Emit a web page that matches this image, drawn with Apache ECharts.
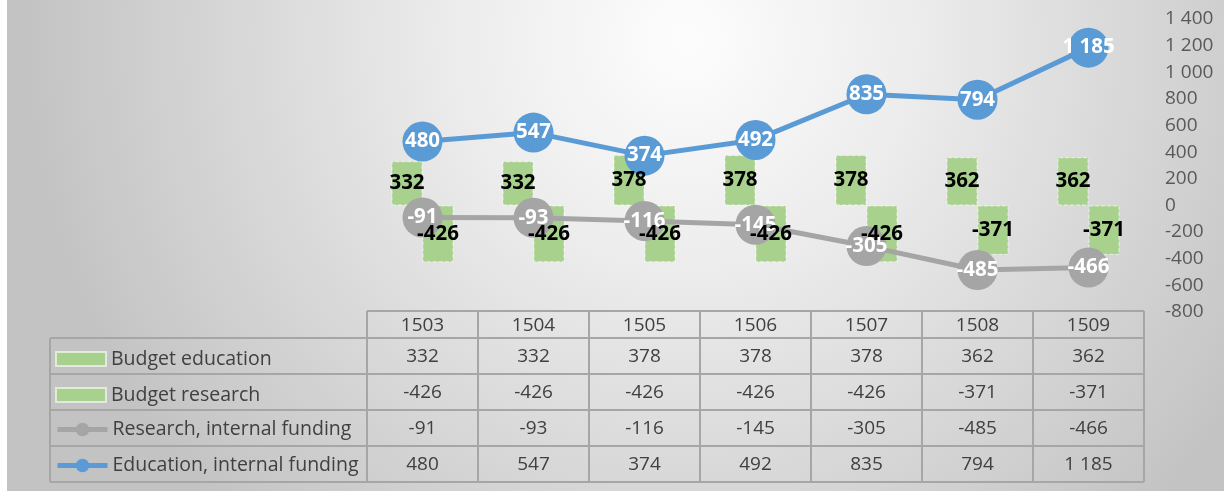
<!DOCTYPE html>
<html>
<head>
<meta charset="utf-8">
<script src="https://cdn.jsdelivr.net/npm/echarts@6/dist/echarts.min.js"></script>
<style>
  html, body { margin: 0; padding: 0; background: #fff; }
  #main { width: 1224px; height: 491px; }
</style>
</head>
<body>
<div id="main"></div>
<script>
// data
var categories = ['1503', '1504', '1505', '1506', '1507', '1508', '1509'];
var budgetEducation = [332, 332, 378, 378, 378, 362, 362];
var budgetResearch = [-426, -426, -426, -426, -426, -371, -371];
var researchInternal = [-91, -93, -116, -145, -305, -485, -466];
var educationInternal = [480, 547, 374, 492, 835, 794, 1185];
var yMin = -800, yMax = 1400, yStep = 200;

var seriesNames = ['Budget education', 'Budget research', 'Research, internal funding', 'Education, internal funding'];
var rows = [budgetEducation, budgetResearch, researchInternal, educationInternal];

var FONT = 'Open Sans';
var GREEN = '#a9d18e', GREY = '#a5a5a5', BLUE = '#5b9bd5';

// 1185 -> "1 185"
function fmt(v) {
    return String(v).replace(/\B(?=(\d{3})+(?!\d))/g, ' ');
}

// table geometry
var tableTop = 311, headH = 27, rowH = 36, tableLeft = 50;

var myChart = echarts.init(document.getElementById('main'));

var legends = [];
for (var i = 0; i < seriesNames.length; i++) {
    var isLine = i >= 2;
    var ih = isLine ? 17 : 14;
    legends.push({
        data: [seriesNames[i]],
        left: 55,
        top: tableTop + headH + rowH * i + rowH / 2 - ih / 2,
        padding: 0,
        itemWidth: 50,
        itemHeight: ih,
        itemGap: 4,
        icon: isLine ? undefined : 'rect',
        lineStyle: { width: 5 },
        selectedMode: false,
        textStyle: { fontFamily: FONT, fontSize: 19.5, color: '#404040', padding: [3, 0, 0, 0] }
    });
}

var barLabel = {
    show: true,
    position: 'inside',
    color: '#000',
    fontFamily: FONT,
    fontWeight: 'bold',
    fontSize: 20.5,
    formatter: function (p) { return fmt(p.value); }
};
var lineLabel = {
    show: true,
    position: 'inside',
    color: '#fff',
    fontFamily: FONT,
    fontWeight: 'bold',
    fontSize: 20.5,
    formatter: function (p) { return fmt(p.value); }
};
var barStyle = { color: GREEN, borderColor: 'rgba(255,255,255,0.6)', borderWidth: 1, borderType: 'dashed' };

var option = {
    backgroundColor: new echarts.graphic.RadialGradient(0.56, 0.08, 1.35, [
        { offset: 0, color: '#fdfdfd' },
        { offset: 0.35, color: '#ececec' },
        { offset: 1, color: '#c3c3c3' }
    ]),
    animation: false,
    legend: legends,
    grid: { left: 367, right: 80, top: 19, bottom: 179 },
    xAxis: [{
        type: 'category',
        data: categories,
        axisLine: { show: false },
        axisTick: { show: false },
        axisLabel: {
            margin: 14,
            verticalAlign: 'middle',
            fontFamily: FONT,
            fontSize: 19,
            color: '#404040'
        }
    }, {
        // twin axis only used to lift the bar labels above the line markers
        type: 'category',
        data: categories,
        show: false
    }],
    yAxis: {
        type: 'value',
        position: 'right',
        min: yMin,
        max: yMax,
        interval: yStep,
        axisLine: { show: false },
        axisTick: { show: false },
        splitLine: { show: false },
        axisLabel: {
            margin: 21,
            align: 'left',
            fontFamily: FONT,
            fontSize: 19,
            color: '#595959',
            formatter: function (v) { return fmt(v); }
        }
    },
    series: [
        {
            name: seriesNames[0],
            type: 'bar',
            data: budgetEducation,
            barWidth: 31,
            barGap: '0%',
            itemStyle: barStyle,
            z: 2
        },
        {
            name: seriesNames[1],
            type: 'bar',
            data: budgetResearch,
            barWidth: 31,
            barGap: '0%',
            itemStyle: barStyle,
            z: 2
        },
        {
            name: seriesNames[2],
            type: 'line',
            data: researchInternal,
            symbol: 'circle',
            symbolSize: 40,
            lineStyle: { color: GREY, width: 5 },
            itemStyle: { color: GREY },
            label: lineLabel,
            z: 3
        },
        {
            name: seriesNames[3],
            type: 'line',
            data: educationInternal,
            symbol: 'circle',
            symbolSize: 40,
            lineStyle: { color: BLUE, width: 5 },
            itemStyle: { color: BLUE },
            label: lineLabel,
            z: 4
        },
        {
            name: 'lbl-edu',
            type: 'bar',
            xAxisIndex: 1,
            data: budgetEducation,
            barWidth: 31,
            barGap: '0%',
            itemStyle: { color: 'rgba(0,0,0,0)' },
            label: barLabel,
            silent: true,
            z: 10
        },
        {
            name: 'lbl-res',
            type: 'bar',
            xAxisIndex: 1,
            data: budgetResearch,
            barWidth: 31,
            barGap: '0%',
            itemStyle: { color: 'rgba(0,0,0,0)' },
            label: barLabel,
            silent: true,
            z: 10
        }
    ]
};
myChart.setOption(option);

// data table under the plot, columns taken from the category axis
var x0 = myChart.convertToPixel({ xAxisIndex: 0 }, 0);
var x1 = myChart.convertToPixel({ xAxisIndex: 0 }, 1);
var band = x1 - x0;
var tableRight = x0 - band / 2 + band * categories.length;
var lineStyle = { stroke: '#a6a6a6', lineWidth: 2 };
var g = [];

g.push({ type: 'rect', shape: { x: 0, y: 0, width: 7, height: 491 }, style: { fill: '#fff' }, z: -1 });

var bodyTop = tableTop + headH;
var bodyBottom = bodyTop + rowH * rows.length;
// horizontal lines
g.push({ type: 'line', shape: { x1: x0 - band / 2, y1: tableTop, x2: tableRight, y2: tableTop }, style: lineStyle });
for (var r = 0; r <= rows.length; r++) {
    var yy = bodyTop + rowH * r;
    g.push({ type: 'line', shape: { x1: tableLeft, y1: yy, x2: tableRight, y2: yy }, style: lineStyle });
}
// vertical lines
g.push({ type: 'line', shape: { x1: tableLeft, y1: bodyTop, x2: tableLeft, y2: bodyBottom }, style: lineStyle });
for (var c = 0; c <= categories.length; c++) {
    var xx = x0 - band / 2 + band * c;
    g.push({ type: 'line', shape: { x1: xx, y1: tableTop, x2: xx, y2: bodyBottom }, style: lineStyle });
}
// cell values
for (var r2 = 0; r2 < rows.length; r2++) {
    for (var c2 = 0; c2 < categories.length; c2++) {
        g.push({
            type: 'text',
            x: x0 + band * c2,
            y: bodyTop + rowH * r2 + rowH / 2 + 1,
            style: {
                text: fmt(rows[r2][c2]),
                align: 'center',
                verticalAlign: 'middle',
                fontFamily: FONT,
                fontSize: 19,
                fill: '#404040'
            }
        });
    }
}
myChart.setOption({ graphic: g });
</script>
</body>
</html>
